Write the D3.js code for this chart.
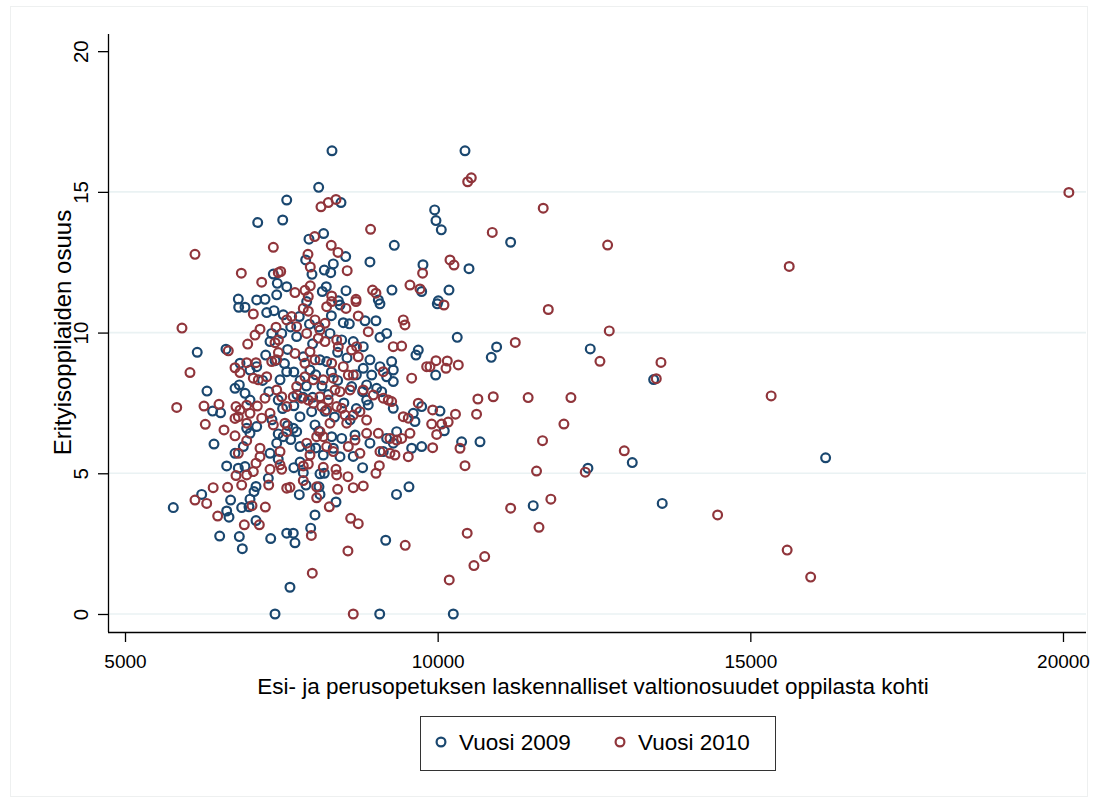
<!DOCTYPE html>
<html>
<head>
<meta charset="utf-8">
<script src="https://cdn.jsdelivr.net/npm/d3@7"></script>
<style>
  html, body { margin: 0; padding: 0; background: #ffffff; }
  svg { display: block; }
  text { font-family: "Liberation Sans", Arial, sans-serif; fill: #000; }
</style>
</head>
<body>
<svg id="chart" width="1097" height="803"></svg>
<script>
// Erityisoppilaiden osuus vs. laskennalliset valtionosuudet oppilasta kohti
// Each entry: [valtionosuus per oppilas (EUR), erityisoppilaiden osuus (%)]
const vuosi2009 = [
  [5772,3.78],[6155,9.30],[6615,9.41],[6311,7.92],[6401,7.21],[6529,7.15],[6423,6.04],[6226,4.25],
  [6689,4.05],[6626,3.66],[6663,3.44],[6514,2.77],[6828,2.75],[6876,2.32],[7330,2.68],[7095,3.32],
  [6866,3.78],[6983,3.81],[6999,4.08],[7063,4.35],[7095,4.53],[6626,5.26],[6812,5.18],[6919,5.24],
  [7292,4.82],[7586,2.87],[7399,0],[7638,0.95],[7691,2.87],[7718,2.53],[7969,3.05],[8038,3.52],
  [8374,3.98],[9169,2.62],[9073,0],[9342,4.25],[9541,4.52],[7787,4.24],[7894,4.58],[8102,4.52],
  [8118,4.25],[8118,4.98],[8187,5.00],[7851,5.02],[10250,0],[11528,3.85],[10383,6.12],[10677,6.12],
  [10106,6.51],[10037,7.21],[9968,8.49],[10857,9.12],[10943,9.49],[10313,9.83],[9994,11.02],[10010,11.13],
  [10181,11.51],[10501,12.27],[11167,13.21],[10058,13.65],[9973,13.98],[9952,14.36],[10437,16.46],[12440,9.42],
  [13454,8.33],[13112,5.38],[12403,5.18],[16204,5.55],[13591,3.93],
  [8310,16.46],[8097,15.16],[8454,14.62],[7586,14.71],[7122,13.91],[7522,14.00],[9306,13.10],[8176,13.52],
  [7942,13.32],[8529,12.70],[7889,12.58],[8331,12.44],[8187,12.22],[8290,12.13],[7990,12.07],[8917,12.51],
  [9765,12.41],[9744,11.46],[9269,11.51],[8534,11.49],[8219,11.63],[8155,11.46],[8411,11.13],[9051,11.16],
  [7372,12.08],[7435,11.75],[7586,11.63],[6812,11.19],[7106,11.16],[7239,11.18],[7426,11.34],
  [6818,10.90],[6919,10.90],[7266,10.71],[7383,10.78],[7531,10.63],[7346,9.97],[7506,9.97],[7319,9.68],
  [6839,8.91],[6999,8.67],[7106,8.79],[6759,8.02],[6828,8.14],[6919,7.84],[6999,7.60],[7586,8.61],
  [7479,8.32],[6759,5.71],[6946,6.60],[6999,6.42],[7106,6.66],[6892,5.95],[7426,6.07],[7319,5.71],
  [7531,6.30],
  [7905,11.10],[8438,10.98],[9077,11.02],[7787,10.57],[8491,10.35],[8587,10.31],[8838,10.42],[9013,10.42],
  [8650,9.68],[8810,9.50],[9077,9.83],[9184,9.97],[9690,9.38],[9653,9.20],[8278,9.97],[8465,9.74],
  [7745,9.86],[7851,9.14],[8118,9.03],[8225,8.97],[7958,8.67],[8810,8.73],[8917,9.03],[8945,8.49],
  [9077,8.79],[9264,8.97],[9290,8.67],[9290,8.26],[9184,8.43],[8624,8.08],[8864,8.14],[9024,8.02],
  [9104,7.90],[8864,7.60],[8890,7.43],[9290,7.31],[9744,7.37],[9610,7.13],[9637,6.84],[9584,5.89],
  [9344,6.48],[9184,6.24],[7985,7.19],[7798,7.01],[8038,6.72],[7691,6.60],[7745,6.48],[8305,6.30],
  [8465,6.24],[8678,6.36],[8331,5.89],[8171,5.65],[8438,5.59],[7958,5.89],[7798,5.95],[8917,6.07],
  [9130,5.77],[9290,6.07],[9744,5.95],
  [7250,9.20],[7400,9.00],[7550,8.90],[7450,7.60],[7300,7.90],[7520,7.30],[7350,6.90],[7600,6.70],
  [7450,6.40],[7200,8.30],[7600,9.40],[7650,10.20],[7700,8.60],[7750,7.80],[7700,7.40],[7650,6.20],
  [7800,8.30],[7850,7.70],[7900,8.10],[8000,7.70],[8050,8.50],[8150,8.10],[8250,7.80],[8300,8.60],
  [8400,8.30],[8500,7.50],[8200,7.20],[8350,7.00],[8600,6.90],[8700,7.30],[8100,6.50],[8550,9.10],
  [8000,9.60],[8400,9.30],[8700,8.50],[8800,7.90],[8100,10.20],[8300,10.60],[7950,10.30],[7800,5.40],
  [8050,5.90],[8650,5.60],[8800,5.20],[7450,5.50],[7700,5.20]
];

const vuosi2010 = [
  [5911,10.16],[6119,12.78],[6039,8.58],[5827,7.34],[6263,7.39],[6503,7.45],[6284,6.74],[6583,6.54],
  [6652,9.35],[6119,4.05],[6306,3.93],[6410,4.49],[6641,4.50],[6482,3.48],[6908,3.17],[7148,3.17],
  [7031,3.85],[7244,3.80],[6866,4.58],[6946,4.94],[6775,4.92],[7298,4.58],[7052,5.06],[7095,5.36],
  [7319,5.14],[7506,5.14],[7479,5.30],[7586,4.47],[7995,1.45],[8565,2.24],[9481,2.44],[7980,2.79],
  [8609,3.40],[8730,3.21],[8267,3.81],[9013,5.00],[9067,5.27],[8650,4.49],[8810,4.55],[8400,4.43],
  [8565,4.88],[8065,4.13],[8065,4.52],[7851,4.74],[7638,4.50],[8171,5.21],[8374,5.14],[8385,4.94],
  [7851,5.26],[7931,5.33],[8650,0],[10437,5.27],[11581,5.08],[11810,4.08],[11167,3.76],[11620,3.08],
  [10472,2.87],[10752,2.04],[10580,1.72],[10185,1.21],[12984,5.80],[12360,5.04],[14477,3.52],[15589,2.27],
  [15965,1.31],[20094,14.98],[12718,13.11],[15622,12.35],[12744,10.06],[12595,8.98],[13571,8.94],[13496,8.36],
  [12131,7.69],[15333,7.75],[11769,10.82],[11241,9.65],[9973,9.00],[10154,8.99],[10330,8.85],[10133,8.73],
  [9877,8.79],[10643,7.64],[10889,7.72],[11447,7.69],[9920,7.25],[10285,7.10],[10622,7.10],[10168,6.82],
  [10064,6.75],[9904,6.75],[9984,6.38],[12019,6.75],[11677,6.16],[10357,5.89],[9920,5.91],[10101,10.98],
  [11688,14.42],[10480,15.36],[10538,15.50],[10873,13.56],[10197,12.58],[10261,12.40],
  [8134,14.47],[8251,14.62],[8374,14.73],[8927,13.67],[8033,13.41],[8298,13.10],[8406,12.85],[7926,12.78],
  [7963,12.33],[8553,12.20],[9759,12.11],[9557,11.69],[9717,11.55],[8959,11.51],[9013,11.40],[8694,11.18],
  [8305,11.30],[7963,11.66],[7878,11.50],[7718,11.42],[7931,11.28],[7372,13.03],[6860,12.11],[7451,12.13],
  [7490,12.17],[7186,11.79],
  [7052,10.66],[6962,9.59],[7079,9.91],[7159,10.12],[7399,9.64],[7415,10.19],[7453,9.29],[6759,8.75],
  [6839,8.58],[6946,8.93],[7095,8.93],[7132,8.32],[7266,8.43],[7346,8.97],[7426,9.03],[6775,7.37],
  [6759,6.95],[6812,7.01],[6946,7.42],[6999,7.13],[7116,7.39],[6839,7.25],[6759,6.33],[6946,6.16],
  [6946,6.78],[7186,6.96],[6812,5.71],[7159,5.89],[7372,6.72],[7558,6.78],[7239,7.67],[7426,7.96],
  [7506,7.72],[7586,7.37],[7319,7.13],[7586,10.45],[7453,9.74],[7052,8.38],[7586,6.48],[7479,5.77],
  [7159,5.59],
  [8225,10.92],[8305,11.10],[8534,10.86],[8694,11.10],[7851,10.86],[7931,10.76],[8038,10.45],[8198,10.33],
  [7665,10.57],[8730,10.59],[8890,10.03],[9450,10.45],[9477,10.27],[9290,9.50],[9424,9.52],[7745,10.21],
  [7905,9.97],[8118,10.09],[8091,9.80],[8198,9.68],[8385,9.74],[8411,9.50],[8624,9.38],[8704,9.50],
  [8730,9.14],[7718,9.26],[7878,8.91],[7958,9.32],[8038,9.03],[8305,8.91],[9130,8.61],[9584,8.38],
  [7878,8.43],[8011,8.32],[8171,8.32],[8331,8.38],[8491,8.79],[8571,8.49],[8650,8.49],[8358,7.96],
  [8438,7.90],[8598,7.96],[8810,7.96],[8970,7.78],[9130,7.67],[9210,7.60],[9264,7.55],[9450,7.01],
  [9530,6.96],[9690,7.49],[9824,8.79],[7745,8.08],[7691,7.72],[7824,7.67],[7931,7.60],[8011,7.49],
  [8118,7.72],[8145,7.37],[8251,7.60],[8225,7.25],[8385,7.37],[8465,7.31],[8518,7.07],[8650,7.07],
  [8757,7.19],[8864,6.89],[8545,6.78],[8278,6.78],[8118,6.48],[8171,6.30],[8065,6.30],[8678,6.18],
  [8864,6.42],[9051,6.42],[9237,6.24],[9344,6.18],[9424,6.24],[9557,6.42],[9077,5.77],[9237,5.71],
  [9317,5.65],[9530,5.59],[7905,6.07],[7958,5.65],[8225,5.95],[8331,5.77],[8571,5.95],[8757,5.71]
];

const sarjat = [
  { nimi: "Vuosi 2009", data: vuosi2009, vari: "#1a476f" },
  { nimi: "Vuosi 2010", data: vuosi2010, vari: "#90353b" }
];

const xTicks = [5000, 10000, 15000, 20000];
const yTicks = [0, 5, 10, 15, 20];
const yGrid = [0, 5, 10, 15];
const xTitle = "Esi- ja perusopetuksen laskennalliset valtionosuudet oppilasta kohti";
const yTitle = "Erityisoppilaiden osuus";

const svg = d3.select("#chart");

// Plot region edges
const plotLeft = 108, plotRight = 1086, plotTop = 34, plotBottom = 632;

const x = d3.scaleLinear().domain([4728, 20368]).range([plotLeft, plotRight]);
const y = d3.scaleLinear().domain([-0.64, 20.61]).range([plotBottom, plotTop]);

const tickFont = "19px";
const yTickFont = "20.5px";
const titleFont = "22.5px";
const yTitleFont = "24px";

// Faint outer frame of the graph region
svg.append("rect")
  .attr("x", 10.5).attr("y", 6.5)
  .attr("width", 1077).attr("height", 790)
  .attr("fill", "none")
  .attr("stroke", "#eef0f0")
  .attr("stroke-width", 1);

// Horizontal grid lines
svg.append("g")
  .selectAll("line")
  .data(yGrid)
  .join("line")
  .attr("x1", plotLeft).attr("x2", plotRight)
  .attr("y1", d => y(d)).attr("y2", d => y(d))
  .attr("stroke", "#eaf2f3")
  .attr("stroke-width", 1.6);

// Y axis
const yAxis = d3.axisLeft(y).tickValues(yTicks).tickSize(10).tickFormat(d3.format("d"));
const gy = svg.append("g").attr("transform", `translate(${plotLeft},0)`).call(yAxis);
gy.select(".domain").attr("stroke", "#000").attr("stroke-width", 1.3)
  .attr("d", `M0.5,${plotTop}V${plotBottom}`);
gy.selectAll(".tick line").attr("stroke", "#000").attr("stroke-width", 1.3);
gy.selectAll(".tick text")
  .attr("x", null).attr("dy", null)
  .attr("transform", "translate(-20,0) rotate(-90)")
  .attr("text-anchor", "middle")
  .style("font-size", yTickFont)
  .style("font-family", "'Liberation Sans', Arial, sans-serif")
  .attr("fill", "#000");

// X axis
const xAxis = d3.axisBottom(x).tickValues(xTicks).tickSize(10).tickFormat(d3.format("d"));
const gx = svg.append("g").attr("transform", `translate(0,${plotBottom})`).call(xAxis);
gx.select(".domain").attr("stroke", "#000").attr("stroke-width", 1.3)
  .attr("d", `M${plotLeft},0.5H${plotRight}`);
gx.selectAll(".tick line").attr("stroke", "#000").attr("stroke-width", 1.3);
gx.selectAll(".tick text")
  .attr("y", 36).attr("dy", null)
  .style("font-size", tickFont)
  .style("font-family", "'Liberation Sans', Arial, sans-serif")
  .attr("fill", "#000");

// Axis titles
svg.append("text")
  .attr("x", 593)
  .attr("y", 694)
  .attr("text-anchor", "middle")
  .style("font-size", titleFont)
  .text(xTitle);

svg.append("text")
  .attr("transform", `translate(71,${(y(0) + y(20)) / 2}) rotate(-90)`)
  .attr("text-anchor", "middle")
  .style("font-size", yTitleFont)
  .text(yTitle);

// Scatter markers: hollow circles, 2009 drawn first
const plot = svg.append("g");
sarjat.forEach(s => {
  plot.append("g")
    .selectAll("circle")
    .data(s.data)
    .join("circle")
    .attr("cx", d => x(d[0]))
    .attr("cy", d => y(d[1]))
    .attr("r", 4.4)
    .attr("fill", "none")
    .attr("stroke", s.vari)
    .attr("stroke-width", 2.2);
});

// Legend
const lg = svg.append("g");
lg.append("rect")
  .attr("x", 420.5).attr("y", 716.5)
  .attr("width", 355).attr("height", 54)
  .attr("fill", "#fff")
  .attr("stroke", "#333")
  .attr("stroke-width", 1);
const legendPos = [441, 620];
sarjat.forEach((s, i) => {
  lg.append("circle")
    .attr("cx", legendPos[i]).attr("cy", 742)
    .attr("r", 4.4)
    .attr("fill", "none")
    .attr("stroke", s.vari)
    .attr("stroke-width", 2.2);
  lg.append("text")
    .attr("x", legendPos[i] + 18).attr("y", 750)
    .style("font-size", titleFont)
    .text(s.nimi);
});
</script>
</body>
</html>
